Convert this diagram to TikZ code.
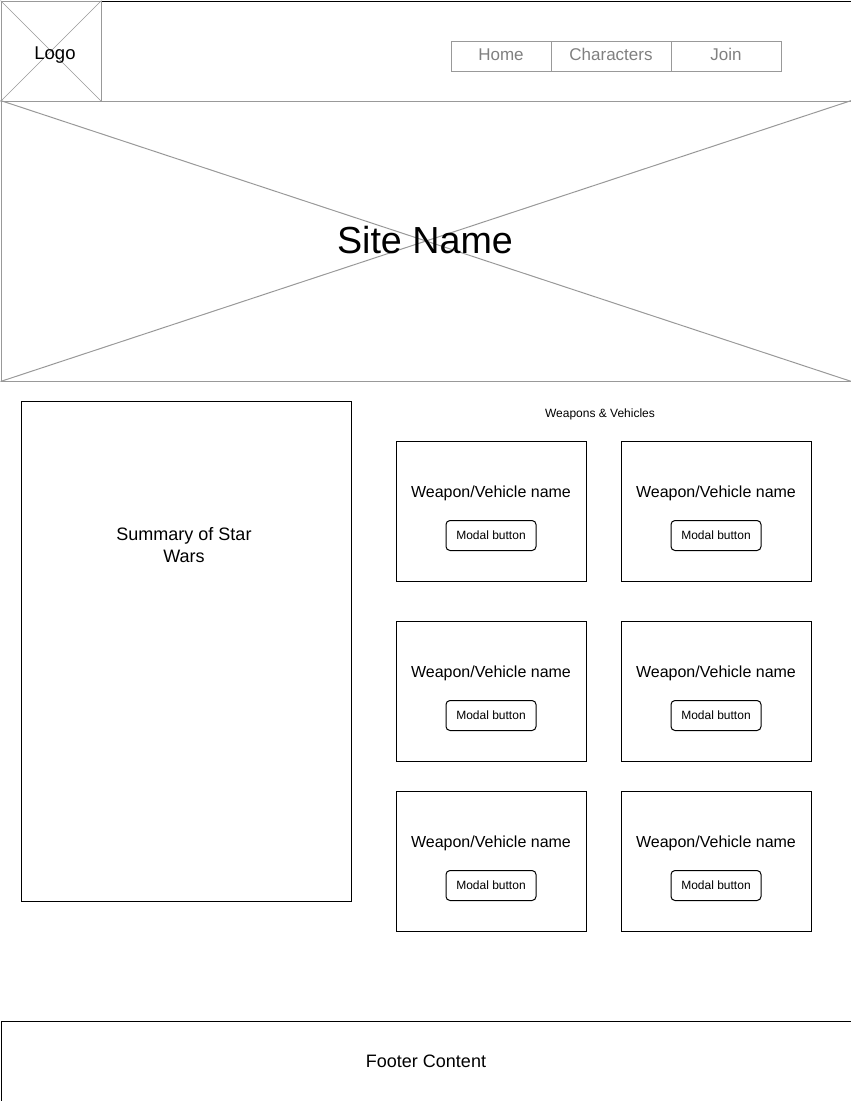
\documentclass[tikz,border=0pt]{standalone}
\usepackage{fontspec}
\setmainfont{Liberation Sans}
\definecolor{wgray}{HTML}{999999}
\definecolor{ngray}{HTML}{808080}
\begin{document}
\begin{tikzpicture}[x=1pt,y=-1pt,line width=1pt,
  box/.style={draw=black,fill=white},
  img/.style={draw=wgray},
  card/.style={draw=black,fill=white},
  btn/.style={draw=black,rounded corners=4pt,minimum width=90pt,minimum height=30pt,inner sep=0pt,font=\fontsize{12}{14}\selectfont},
  cname/.style={font=\fontsize{16}{19}\selectfont,inner sep=0pt},
  navitem/.style={draw=wgray,inner sep=0pt,minimum height=30pt,text height=12.5pt,text depth=3.5pt,text=ngray,font=\fontsize{17}{20}\selectfont}]
\useasboundingbox (0,0) rectangle (851,1101);
% header
\node[box,minimum width=850pt,minimum height=100pt,anchor=north west,inner sep=0pt] (header) at (0.5,0.5) {};
% logo
\node[img,minimum width=100pt,minimum height=100pt,anchor=north west,inner sep=0pt] (logo) at (0.5,0.5) {};
\draw[wgray,line width=0.6pt] (logo.north west) -- (logo.south east) (logo.north east) -- (logo.south west);
\node[font=\fontsize{18.5}{20}\selectfont,inner sep=0pt] (logotext) at (55,55) {Logo};
% nav
\node[navitem,minimum width=100pt,anchor=north west] (home) at (450.5,40.5) {Home};
\node[navitem,minimum width=120pt,anchor=north west] (chars) at (550.5,40.5) {Characters};
\node[navitem,minimum width=110pt,anchor=north west] (join) at (670.5,40.5) {Join};
% hero
\node[img,minimum width=850pt,minimum height=280pt,anchor=north west,inner sep=0pt] (hero) at (0.5,100.5) {};
\draw[wgray] (hero.north west) -- (hero.south east) (hero.north east) -- (hero.south west);
\node[font=\fontsize{37.7}{44}\selectfont,inner sep=0pt] (sitename) at (425,240) {Site Name};
% summary
\node[box,minimum width=330pt,minimum height=500pt,anchor=north west,inner sep=0pt] (summary) at (20.5,400.5) {};
\node[align=center,font=\fontsize{18}{22}\selectfont,inner sep=0pt] (sumtext) at (184,545) {Summary of Star\\Wars};
% weapons title
\node[font=\fontsize{12}{14}\selectfont,inner sep=0pt] (wtitle) at (600,414.5) {Weapons \& Vehicles};
% cards
\foreach \i/\x/\y in {1/395.5/440.5,2/620.5/440.5,3/395.5/620.5,4/620.5/620.5,5/395.5/790.5,6/620.5/790.5}{
  \node[card,minimum width=190pt,minimum height=140pt,anchor=north west,inner sep=0pt] (card\i) at (\x,\y) {};
  \node[cname] (name\i) at ([yshift=-52.5pt]card\i.north) {Weapon/Vehicle name};
  \node[btn] (btn\i) at ([yshift=-95pt]card\i.north) {Modal button};
}
% footer
\node[box,minimum width=850pt,minimum height=80pt,anchor=north west,inner sep=0pt,font=\fontsize{18}{20}\selectfont] (footer) at (0.5,1020.5) {Footer Content};
\end{tikzpicture}
\end{document}
